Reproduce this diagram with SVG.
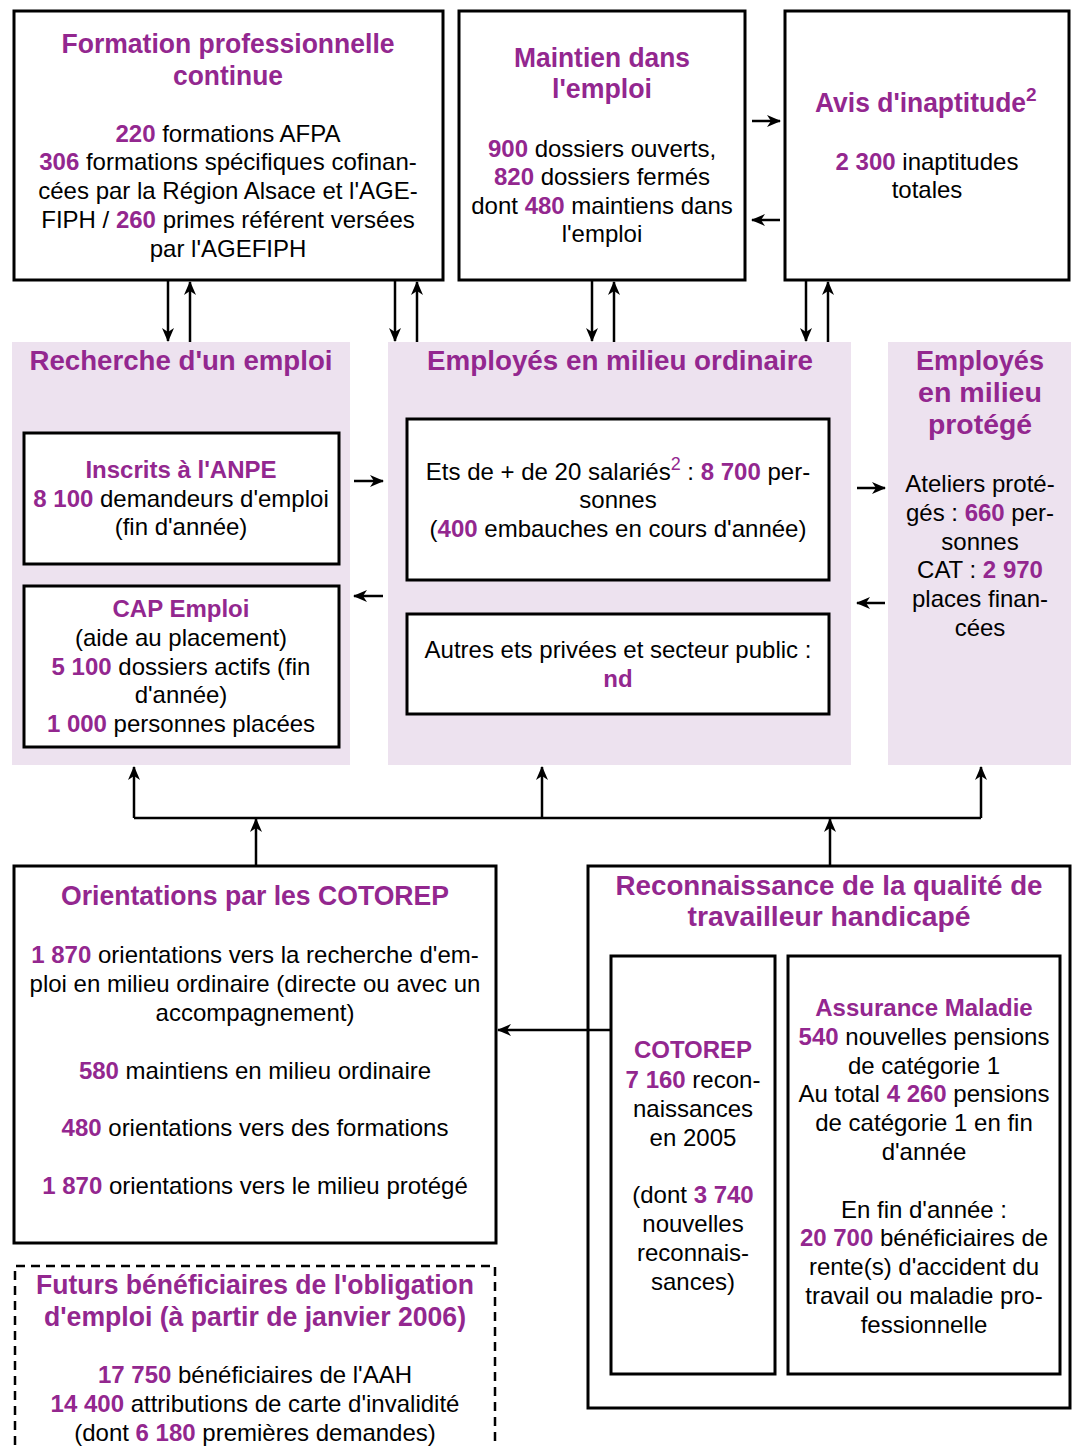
<svg xmlns="http://www.w3.org/2000/svg" width="1077" height="1446" viewBox="0 0 1077 1446">
<style>
text { font-family: "Liberation Sans", Arial, sans-serif; font-size: 24px; fill: #000; text-anchor: middle; }
.h { font-weight: bold; fill: #93278F; }
.t { font-weight: bold; fill: #93278F; font-size: 27px; }
.n { font-weight: bold; fill: #93278F; }
.s { fill: #93278F; font-size: 18px; }
.box { fill: #fff; stroke: #000; stroke-width: 3; }
.dash { fill: none; stroke: #000; stroke-width: 2.5; stroke-dasharray: 9 6; }
.panel { fill: #EDE2EF; }
.c { stroke: #000; stroke-width: 2.5; fill: none; marker-end: url(#ah); }
.l { stroke: #000; stroke-width: 2.5; fill: none; }
</style>
<defs>
<marker id="ah" markerUnits="userSpaceOnUse" markerWidth="14" markerHeight="12" refX="13" refY="6" orient="auto">
<path d="M0,0 L14,6 L0,12 L4,6 z" fill="#000"/>
</marker>
</defs>

<g id="panel-recherche">
<rect class="panel" x="12" y="342" width="338" height="423"/>
<text class="t" x="181" y="370" textLength="303" lengthAdjust="spacingAndGlyphs">Recherche d'un emploi</text>
</g>
<g id="panel-ordinaire">
<rect class="panel" x="388" y="342" width="463" height="423"/>
<text class="t" x="620" y="370" textLength="386" lengthAdjust="spacingAndGlyphs">Employés en milieu ordinaire</text>
</g>
<g id="panel-protege">
<rect class="panel" x="888" y="342" width="183" height="423"/>
<text class="t" x="980" y="370" textLength="128" lengthAdjust="spacingAndGlyphs">Employés</text>
<text class="t" x="980" y="402" textLength="124" lengthAdjust="spacingAndGlyphs">en milieu</text>
<text class="t" x="980" y="434" textLength="104" lengthAdjust="spacingAndGlyphs">protégé</text>
<text x="980" y="492">Ateliers proté-</text>
<text x="980" y="521">gés : <tspan class="n">660</tspan> per-</text>
<text x="980" y="550">sonnes</text>
<text x="980" y="578">CAT : <tspan class="n">2 970</tspan></text>
<text x="980" y="607">places finan-</text>
<text x="980" y="636">cées</text>
</g>

<g id="formation">
<rect class="box" x="14" y="11" width="429" height="269"/>
<text class="t" x="228" y="53" textLength="333" lengthAdjust="spacingAndGlyphs">Formation professionnelle</text>
<text class="t" x="228" y="85" textLength="110" lengthAdjust="spacingAndGlyphs">continue</text>
<text x="228" y="142"><tspan class="n">220</tspan> formations AFPA</text>
<text x="228" y="170"><tspan class="n">306</tspan> formations spécifiques cofinan-</text>
<text x="228" y="199">cées par la Région Alsace et l'AGE-</text>
<text x="228" y="228">FIPH / <tspan class="n">260</tspan> primes référent versées</text>
<text x="228" y="257">par l'AGEFIPH</text>
</g>

<g id="maintien">
<rect class="box" x="459" y="11" width="286" height="269"/>
<text class="t" x="602" y="67" textLength="176" lengthAdjust="spacingAndGlyphs">Maintien dans</text>
<text class="t" x="602" y="98" textLength="100" lengthAdjust="spacingAndGlyphs">l'emploi</text>
<text x="602" y="157"><tspan class="n">900</tspan> dossiers ouverts,</text>
<text x="602" y="185"><tspan class="n">820</tspan> dossiers fermés</text>
<text x="602" y="214">dont <tspan class="n">480</tspan> maintiens dans</text>
<text x="602" y="242">l'emploi</text>
</g>

<g id="inaptitude">
<rect class="box" x="785" y="11" width="284" height="269"/>
<text class="t" x="927" y="112"><tspan x="815" style="text-anchor:start" textLength="211" lengthAdjust="spacingAndGlyphs">Avis d'inaptitude</tspan><tspan dy="-11" style="font-size:19px">2</tspan></text>
<text x="927" y="170"><tspan class="n">2 300</tspan> inaptitudes</text>
<text x="927" y="198">totales</text>
</g>

<g id="anpe">
<rect class="box" x="24" y="433" width="315" height="131"/>
<text class="h" x="181" y="478">Inscrits à l'ANPE</text>
<text x="181" y="507"><tspan class="n">8 100</tspan> demandeurs d'emploi</text>
<text x="181" y="535">(fin d'année)</text>
</g>

<g id="cap-emploi">
<rect class="box" x="24" y="586" width="315" height="161"/>
<text class="h" x="181" y="617">CAP Emploi</text>
<text x="181" y="646">(aide au placement)</text>
<text x="181" y="675"><tspan class="n">5 100</tspan> dossiers actifs (fin</text>
<text x="181" y="703">d'année)</text>
<text x="181" y="732"><tspan class="n">1 000</tspan> personnes placées</text>
</g>

<g id="ets20">
<rect class="box" x="407" y="419" width="422" height="161"/>
<text x="618" y="480">Ets de + de 20 salariés<tspan class="s" dy="-10">2</tspan><tspan dy="10"> : </tspan><tspan class="n">8 700</tspan> per-</text>
<text x="618" y="508">sonnes</text>
<text x="618" y="537">(<tspan class="n">400</tspan> embauches en cours d'année)</text>
</g>

<g id="autres-ets">
<rect class="box" x="407" y="614" width="422" height="100"/>
<text x="618" y="658">Autres ets privées et secteur public :</text>
<text class="n" x="618" y="687">nd</text>
</g>

<g id="orientations">
<rect class="box" x="14" y="866" width="482" height="377"/>
<text class="t" x="255" y="905" textLength="388" lengthAdjust="spacingAndGlyphs">Orientations par les COTOREP</text>
<text x="255" y="963"><tspan class="n">1 870</tspan> orientations vers la recherche d'em-</text>
<text x="255" y="992">ploi en milieu ordinaire (directe ou avec un</text>
<text x="255" y="1021">accompagnement)</text>
<text x="255" y="1079"><tspan class="n">580</tspan> maintiens en milieu ordinaire</text>
<text x="255" y="1136"><tspan class="n">480</tspan> orientations vers des formations</text>
<text x="255" y="1194"><tspan class="n">1 870</tspan> orientations vers le milieu protégé</text>
</g>

<g id="futurs">
<path class="dash" d="M15,1460 L15,1266 L495,1266 L495,1460"/>
<text class="t" x="255" y="1294" textLength="438" lengthAdjust="spacingAndGlyphs">Futurs bénéficiaires de l'obligation</text>
<text class="t" x="255" y="1326" textLength="422" lengthAdjust="spacingAndGlyphs">d'emploi (à partir de janvier 2006)</text>
<text x="255" y="1383"><tspan class="n">17 750</tspan> bénéficiaires de l'AAH</text>
<text x="255" y="1412"><tspan class="n">14 400</tspan> attributions de carte d'invalidité</text>
<text x="255" y="1441">(dont <tspan class="n">6 180</tspan> premières demandes)</text>
</g>

<g id="reconnaissance">
<rect class="box" x="588" y="866" width="482" height="542"/>
<text class="t" x="829" y="895" textLength="427" lengthAdjust="spacingAndGlyphs">Reconnaissance de la qualité de</text>
<text class="t" x="829" y="926" textLength="283" lengthAdjust="spacingAndGlyphs">travailleur handicapé</text>
</g>

<g id="cotorep">
<rect class="box" x="611" y="956" width="164" height="418"/>
<text class="h" x="693" y="1058">COTOREP</text>
<text x="693" y="1088"><tspan class="n">7 160</tspan> recon-</text>
<text x="693" y="1117">naissances</text>
<text x="693" y="1146">en 2005</text>
<text x="693" y="1203">(dont <tspan class="n">3 740</tspan></text>
<text x="693" y="1232">nouvelles</text>
<text x="693" y="1261">reconnais-</text>
<text x="693" y="1290">sances)</text>
</g>

<g id="assurance-maladie">
<rect class="box" x="788" y="956" width="272" height="418"/>
<text class="h" x="924" y="1016">Assurance Maladie</text>
<text x="924" y="1045"><tspan class="n">540</tspan> nouvelles pensions</text>
<text x="924" y="1074">de catégorie 1</text>
<text x="924" y="1102">Au total <tspan class="n">4 260</tspan> pensions</text>
<text x="924" y="1131">de catégorie 1 en fin</text>
<text x="924" y="1160">d'année</text>
<text x="924" y="1218">En fin d'année :</text>
<text x="924" y="1246"><tspan class="n">20 700</tspan> bénéficiaires de</text>
<text x="924" y="1275">rente(s) d'accident du</text>
<text x="924" y="1304">travail ou maladie pro-</text>
<text x="924" y="1333">fessionnelle</text>
</g>

<g id="connectors">
<line class="c" x1="168" y1="281" x2="168" y2="341"/>
<line class="c" x1="190" y1="342" x2="190" y2="282"/>
<line class="c" x1="395" y1="281" x2="395" y2="341"/>
<line class="c" x1="417" y1="342" x2="417" y2="282"/>
<line class="c" x1="592" y1="281" x2="592" y2="341"/>
<line class="c" x1="614" y1="342" x2="614" y2="282"/>
<line class="c" x1="806" y1="281" x2="806" y2="341"/>
<line class="c" x1="828" y1="342" x2="828" y2="282"/>
<line class="c" x1="752" y1="121" x2="780" y2="121"/>
<line class="c" x1="780" y1="220" x2="752" y2="220"/>
<line class="c" x1="354" y1="481" x2="383" y2="481"/>
<line class="c" x1="383" y1="596" x2="354" y2="596"/>
<line class="c" x1="857" y1="488" x2="885" y2="488"/>
<line class="c" x1="885" y1="603" x2="857" y2="603"/>
<polyline class="l" points="134,818 981,818"/>
<line class="c" x1="134" y1="818" x2="134" y2="767"/>
<line class="c" x1="542" y1="818" x2="542" y2="767"/>
<line class="c" x1="981" y1="818" x2="981" y2="767"/>
<line class="c" x1="256" y1="865" x2="256" y2="819"/>
<line class="c" x1="830" y1="865" x2="830" y2="819"/>
<line class="c" x1="611" y1="1030" x2="498" y2="1030"/>
</g>
</svg>
